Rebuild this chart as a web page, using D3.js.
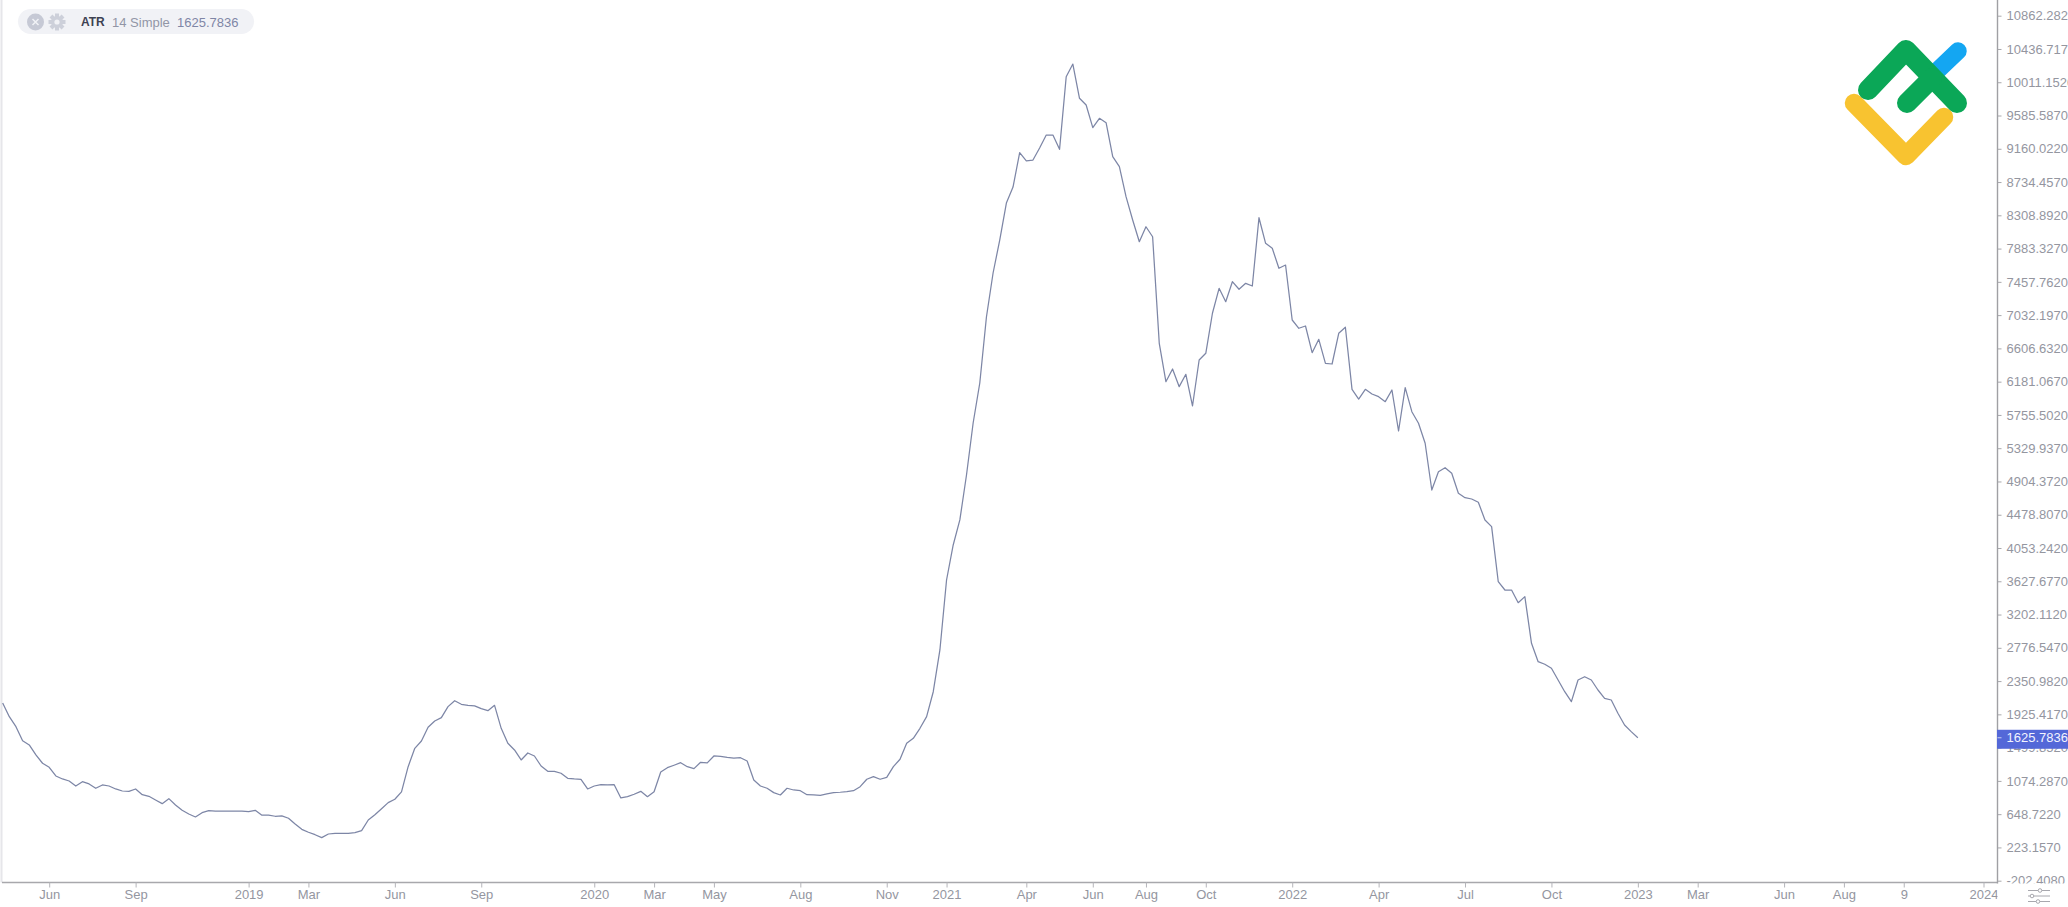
<!DOCTYPE html>
<html>
<head>
<meta charset="utf-8">
<script src="https://cdn.jsdelivr.net/npm/d3@7"></script>
<style>
html,body{margin:0;padding:0;background:#fff;overflow:hidden}
svg{display:block}
text{font-family:"Liberation Sans",Arial,sans-serif}
</style>
</head>
<body>
<svg id="chart" width="2068" height="907"></svg>
<script>
const firstWeek = "2018-04-16";
const atrValues = [
2070,1896,1768,1589,1534,1406,1300,1248,1137,1099,1073,1009,1064,1035,980,1022,1009,971,945,941,
971,898,877,830,783,847,766,698,651,613,668,693,686,686,686,689,686,681,698,635,
635,622,626,596,523,455,417,386,348,395,404,404,404,412,438,574,642,719,796,839,
933,1256,1491,1585,1760,1841,1883,2024,2100,2054,2041,2033,1998,1972,2041,1747,1555,1470,1342,1431,
1393,1265,1197,1197,1172,1108,1099,1095,971,1009,1026,1022,1026,856,872,903,941,872,936,1188,
1243,1274,1307,1256,1231,1312,1304,1393,1389,1376,1367,1371,1329,1086,1009,980,924,894,980,958,
949,898,894,890,907,924,929,936,949,1000,1095,1128,1095,1120,1256,1351,1555,1619,1747,1896,
2215,2749,3644,4092,4412,4987,5652,6164,7008,7571,7993,8466,8671,9110,9004,9016,9170,9336,9336,9153,
10082,10244,9806,9720,9430,9550,9494,9059,8931,8547,8249,7971,8163,8035,6672,6181,6343,6117,6275,5870,
6458,6544,7056,7375,7204,7460,7363,7439,7405,8278,7951,7887,7631,7673,6970,6864,6893,6552,6723,6416,
6407,6800,6877,6083,5959,6083,6023,5989,5925,6075,5550,6104,5797,5649,5393,4795,5029,5081,5009,4753,
4697,4680,4638,4412,4326,3622,3516,3516,3354,3431,2834,2599,2566,2515,2365,2215,2088,2365,2407,2365,
2237,2131,2109,1939,1790,1704,1625.7836
];
const xTickDates = ["2018-06-04","2018-09-03","2018-12-31","2019-03-04","2019-06-03","2019-09-02","2019-12-30","2020-03-02","2020-05-04","2020-08-03","2020-11-02","2021-01-04","2021-03-29","2021-06-07","2021-08-02","2021-10-04","2022-01-03","2022-04-04","2022-07-04","2022-10-03","2023-01-02","2023-03-06","2023-06-05","2023-08-07","2023-10-09","2024-01-01"];
const xTickLabels = ["Jun","Sep","2019","Mar","Jun","Sep","2020","Mar","May","Aug","Nov","2021","Apr","Jun","Aug","Oct","2022","Apr","Jul","Oct","2023","Mar","Jun","Aug","9","2024"];
const yTickValues = [10862.282,10436.717,10011.152,9585.587,9160.022,8734.457,8308.892,7883.327,7457.762,7032.197,6606.632,6181.067,5755.502,5329.937,4904.372,4478.807,4053.242,3627.677,3202.112,2776.547,2350.982,1925.417,1499.852,1074.287,648.722,223.157,-202.408];
const legendName = "ATR";
const legendParams = "14 Simple";
const lastValue = 1625.7836;

const svg = d3.select("#chart");
const parse = d3.utcParse("%Y-%m-%d");
const start = parse(firstWeek);
const dates = atrValues.map((_, i) => d3.utcDay.offset(start, 7 * i));

const plot = {left: 2, right: 1997.5, bottom: 882.5};
const x = d3.scaleUtc().domain([start, parse("2024-01-01")]).range([2.67, 1983.5]);
const y = d3.scaleLinear().domain([10862.282, -202.408]).range([15.7, 880.7]);

const grey = "#94969f";
const fmt = v => d3.format(".4f")(v).replace("\u2212", "-");

const defs = svg.append("defs");
defs.append("clipPath").attr("id","yclip").append("rect").attr("x",plot.right).attr("y",0).attr("width",80).attr("height",883.5);
defs.append("filter").attr("id","soft").append("feGaussianBlur").attr("stdDeviation",0.35);

svg.append("line").attr("x1",1.5).attr("x2",1.5).attr("y1",0).attr("y2",plot.bottom).attr("stroke","#e6e6ea").attr("stroke-width",2);

// series
const line = d3.line().x((d,i) => x(dates[i])).y(d => y(d));
svg.append("path").datum(atrValues).attr("d",line).attr("fill","none")
  .attr("stroke","#7d86a6").attr("stroke-width",1.25).attr("stroke-linejoin","round").attr("filter","url(#soft)");

// x axis
const xAxis = d3.axisBottom(x)
  .tickValues(xTickDates.map(parse))
  .tickFormat((d,i) => xTickLabels[i])
  .tickSize(5).tickPadding(2);
const gx = svg.append("g").attr("transform",`translate(0,${plot.bottom})`).call(xAxis);
gx.select(".domain").attr("d",`M${plot.left},0H${plot.right}`).attr("stroke","#a8a8ac").attr("stroke-width",1.6);
gx.selectAll(".tick line").attr("stroke","#b5b5ba");
gx.selectAll(".tick text").attr("fill",grey).attr("font-size",13).attr("font-family",'"Liberation Sans",Arial,sans-serif');
svg.append("rect").attr("x",plot.right).attr("y",plot.bottom+2).attr("width",70).attr("height",24).attr("fill","#fff");

// y axis
const yAxis = d3.axisRight(y).tickValues(yTickValues).tickFormat(fmt).tickSize(4).tickPadding(5);
const gy = svg.append("g").attr("clip-path","url(#yclip)").append("g").attr("transform",`translate(${plot.right},0)`).call(yAxis);
gy.select(".domain").remove();
gy.selectAll(".tick line").attr("stroke","#a8a8ac");
gy.selectAll(".tick text").attr("fill",grey).attr("font-size",13).attr("font-family",'"Liberation Sans",Arial,sans-serif');
svg.append("line").attr("x1",plot.right).attr("x2",plot.right).attr("y1",0).attr("y2",plot.bottom+1).attr("stroke","#a0a0a4").attr("stroke-width",1.4);

// last value label
const ly = y(lastValue);
svg.append("rect").attr("x",plot.right-0.5).attr("y",ly-8).attr("width",72).attr("height",19).attr("fill","#5468d8");
svg.append("line").attr("x1",plot.right).attr("x2",plot.right+4).attr("y1",ly).attr("y2",ly).attr("stroke","#c9cff2");
svg.append("text").attr("x",plot.right+9).attr("y",ly).attr("dy","0.35em").attr("fill","#f2f4ff").attr("font-size",13).text(fmt(lastValue));

// legend pill
const lg = svg.append("g");
lg.append("rect").attr("x",18).attr("y",9).attr("width",236).attr("height",25).attr("rx",12.5).attr("fill","#f1f2f6");
lg.append("circle").attr("cx",35.5).attr("cy",22).attr("r",8.5).attr("fill","#c6c9d5");
lg.append("path").attr("d","M32.5,19L38.5,25M38.5,19L32.5,25").attr("stroke","#f1f2f6").attr("stroke-width",1.5);
const gear = lg.append("g").attr("transform","translate(57,22)");
d3.range(4).forEach(i => gear.append("rect").attr("x",-2).attr("y",-8.5).attr("width",4).attr("height",17).attr("fill","#cdd0da").attr("transform",`rotate(${i*45})`));
gear.append("circle").attr("r",6).attr("fill","#cdd0da");
gear.append("circle").attr("r",2.6).attr("fill","#f1f2f6");
lg.append("text").attr("x",81).attr("y",22).attr("dy","0.35em").attr("font-size",12).attr("fill","#3d4152").attr("font-weight","bold").text(legendName);
lg.append("text").attr("x",112).attr("y",22).attr("dy","0.35em").attr("font-size",13).attr("fill","#9296a6").text(legendParams);
lg.append("text").attr("x",177).attr("y",22).attr("dy","0.35em").attr("font-size",13).attr("fill","#7f86a6").text(fmt(lastValue));

// settings icon
const si = svg.append("g").attr("stroke","#a8a8ae").attr("stroke-width",1).attr("fill","#fff");
[[890.5,2040],[896,2032],[901.5,2038]].forEach(([yy,cx]) => {
  si.append("line").attr("x1",2028).attr("x2",2050).attr("y1",yy).attr("y2",yy);
  si.append("circle").attr("cx",cx).attr("cy",yy).attr("r",1.8);
});

// logo
const logo = svg.append("g").attr("fill","none").attr("stroke-linecap","round").attr("stroke-linejoin","round");
const path2 = d3.line();
logo.append("path").attr("stroke","#14a6f2").attr("stroke-width",17.5).attr("d",path2([[1936,72],[1958,51]]));
logo.append("path").attr("stroke","#f8c330").attr("stroke-width",18.5).attr("d",path2([[1854,103],[1906,156],[1944,117]]));
logo.append("path").attr("stroke","#0ba757").attr("stroke-width",20).attr("d",path2([[1868,90],[1906,50],[1957,103]]));
logo.append("path").attr("stroke","#0ba757").attr("stroke-width",20).attr("d",path2([[1907,103],[1932,78]]));
</script>
</body>
</html>
